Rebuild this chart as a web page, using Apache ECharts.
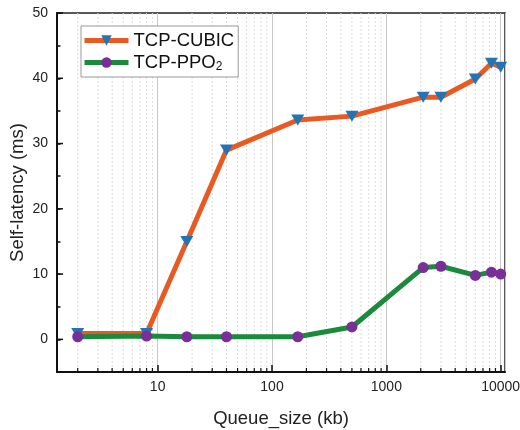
<!DOCTYPE html>
<html>
<head>
<meta charset="utf-8">
<script src="https://cdn.jsdelivr.net/npm/echarts@6/dist/echarts.min.js"></script>
<style>
  html, body { margin: 0; padding: 0; background: #fff; }
  #chart { width: 520px; height: 430px; }
</style>
</head>
<body>
<div id="chart"></div>
<script>
// Queue sizes (kb) at which self-latency was measured
const queueSize = [2, 8, 18, 40, 168, 500, 2100, 3000, 6000, 8300, 10000];
// Self-latency (ms) for each congestion-control scheme
const cubicLatency = [0.9, 0.9, 15.0, 29.0, 33.6, 34.2, 37.1, 37.1, 39.9, 42.3, 41.7];
const ppoLatency = [0.4, 0.5, 0.4, 0.4, 0.4, 1.9, 11.0, 11.2, 9.8, 10.3, 10.0];
// Minor log-axis positions (2..9 within each decade)
const minorTickValues = [
  2, 3, 4, 5, 6, 7, 8, 9,
  20, 30, 40, 50, 60, 70, 80, 90,
  200, 300, 400, 500, 600, 700, 800, 900,
  2000, 3000, 4000, 5000, 6000, 7000, 8000, 9000
];
// Labelled (major) latency ticks
const majorLatencyTicks = [0, 10, 20, 30, 40, 50];
const seriesNames = ['TCP-CUBIC', 'TCP-PPO2'];

const FONT = 'Liberation Sans, Arial, sans-serif';
const chart = echarts.init(document.getElementById('chart'), null, { renderer: 'canvas' });

const pairs = (xs, ys) => xs.map((x, i) => [x, ys[i]]);

chart.setOption({
  animation: false,
  backgroundColor: '#fff',
  textStyle: { fontFamily: FONT },
  grid: {
    left: 57, right: 15, top: 13, bottom: 58,
    containLabel: false,
    outerBoundsMode: 'none',
    show: true, borderColor: '#222', borderWidth: 1.5
  },
  legend: {
    data: seriesNames,
    left: 81, top: 26,
    orient: 'vertical',
    itemWidth: 44, itemHeight: 13,
    itemGap: 3,
    padding: [5, 4, 4, 1],
    borderColor: '#999', borderWidth: 1,
    backgroundColor: '#fff',
    lineStyle: { width: 5 },
    textStyle: {
      fontFamily: FONT, fontSize: 18.5, color: '#111',
      rich: {
        b: { fontFamily: FONT, fontSize: 18.5, color: '#111' },
        sub: { fontFamily: FONT, fontSize: 12, color: '#111', verticalAlign: 'bottom', padding: [9, 0, 0, 0] }
      }
    },
    formatter: name => name === 'TCP-PPO2' ? '{b|TCP-PPO}{sub|2}' : name
  },
  xAxis: {
    type: 'log',
    logBase: 10,
    min: 1.318,
    max: 10906,
    name: 'Queue_size (kb)',
    nameLocation: 'middle',
    nameGap: 37,
    nameTextStyle: { fontFamily: FONT, fontSize: 18.5, color: '#222' },
    axisLine: { onZero: false, lineStyle: { color: '#111', width: 2 } },
    axisTick: { inside: true, length: 7, lineStyle: { color: '#111', width: 1.5 } },
    axisLabel: {
      fontFamily: FONT, fontSize: 14, color: '#222', margin: 8,
      showMinLabel: false, showMaxLabel: false,
      formatter: v => String(Math.round(v))
    },
    splitLine: { show: true, lineStyle: { color: '#c8c8c8', width: 1 } }
  },
  yAxis: {
    type: 'value',
    min: -5, max: 50, interval: 5,
    name: 'Self-latency (ms)',
    nameLocation: 'middle',
    nameGap: 30,
    nameMoveOverlap: false,
    nameTextStyle: { fontFamily: FONT, fontSize: 18.5, color: '#222' },
    axisLine: { show: true, onZero: false, lineStyle: { color: '#111', width: 2 } },
    axisTick: { inside: true, length: 3.5, lineStyle: { color: '#111', width: 1.5 } },
    axisLabel: {
      fontFamily: FONT, fontSize: 14, color: '#222', margin: 9,
      formatter: v => (v % 10 === 0 ? String(v) : '')
    },
    splitLine: { show: false }
  },
  series: [
    {
      // dotted minor grid lines and short minor ticks on the log axis
      type: 'custom',
      name: 'minorX',
      silent: true,
      z: 1,
      data: minorTickValues.map(v => [v, 0]),
      encode: { x: 0, y: 1 },
      renderItem: (params, api) => {
        const cs = params.coordSys;
        const x = api.coord([api.value(0), 0])[0];
        const bottom = cs.y + cs.height;
        return {
          type: 'group',
          children: [{
            type: 'line',
            shape: { x1: x, y1: cs.y, x2: x, y2: bottom },
            style: { stroke: '#dcdcdc', lineWidth: 1, lineDash: [2, 2] }
          }, {
            type: 'line',
            shape: { x1: x, y1: bottom, x2: x, y2: bottom - 4 },
            style: { stroke: '#111', lineWidth: 1.2 }
          }]
        };
      }
    },
    {
      // longer ticks at the labelled latency values
      type: 'custom',
      name: 'majorY',
      silent: true,
      z: 2,
      data: majorLatencyTicks.map(v => [2, v]),
      encode: { x: 0, y: 1 },
      renderItem: (params, api) => {
        const cs = params.coordSys;
        const y = api.coord([2, api.value(1)])[1];
        return {
          type: 'line',
          shape: { x1: cs.x, y1: y, x2: cs.x + 6, y2: y },
          style: { stroke: '#111', lineWidth: 1.5 }
        };
      }
    },
    {
      name: 'TCP-CUBIC',
      type: 'line',
      z: 3,
      data: pairs(queueSize, cubicLatency),
      lineStyle: { color: '#E95A22', width: 5 },
      itemStyle: { color: '#2274B4' },
      symbol: 'triangle',
      symbolSize: [13, 11],
      symbolRotate: 180,
      showAllSymbol: true
    },
    {
      name: 'TCP-PPO2',
      type: 'line',
      z: 4,
      data: pairs(queueSize, ppoLatency),
      lineStyle: { color: '#1A8A3C', width: 5 },
      itemStyle: { color: '#7A2F98' },
      symbol: 'circle',
      symbolSize: 11,
      showAllSymbol: true
    }
  ]
});
</script>
</body>
</html>
